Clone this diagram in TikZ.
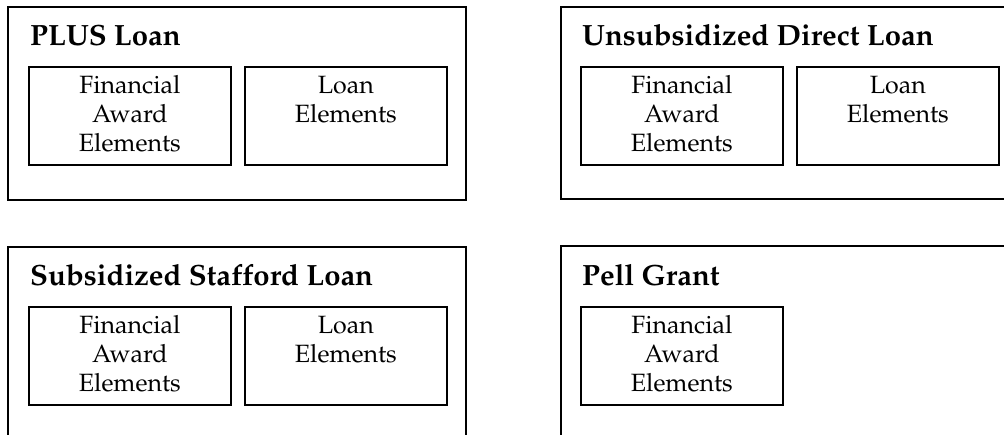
\documentclass[tikz,border=0pt]{standalone}
\usepackage[T1]{fontenc}
\usepackage{mathpazo}
\tikzset{
  frame/.style={draw=black, line width=1.8pt},
  inbox/.style={draw=black, line width=1.8pt, minimum width=202pt, minimum height=98pt, inner sep=0pt, anchor=north west},
  intext/.style={align=center, inner sep=0pt, anchor=north, font=\fontsize{25}{29}\selectfont},
  grouptitle/.style={anchor=base west, inner sep=0pt, font=\fontsize{29.3}{34}\selectfont\bfseries},
}
\begin{document}
\begin{tikzpicture}[x=1pt,y=-1pt]
\useasboundingbox (0,0) rectangle (1004,435);
% outer frames
\draw[frame] (8,7) rectangle (466,200);
\draw[frame] (1004,7) -- (561,7) -- (561,199) -- (1004,199);
\draw[frame] (8,435) -- (8,247) -- (466,247) -- (466,435);
\draw[frame] (561,435) -- (561,246) -- (1004,246);
% titles
\node[grouptitle] (tplus) at (30,46) {PLUS Loan};
\node[grouptitle] (tunsub) at (582,46) {Unsubsidized Direct Loan};
\node[grouptitle] (tsub) at (30,286) {Subsidized Stafford Loan};
\node[grouptitle] (tpell) at (582,286) {Pell Grant};
% inner boxes
\node[inbox] (pf) at (28,66) {};
\node[inbox] (pl) at (244,66) {};
\node[inbox] (uf) at (580,66) {};
\node[inbox] (ul) at (796,66) {};
\node[inbox] (sf) at (28,306) {};
\node[inbox] (sl) at (244,306) {};
\node[inbox] (gf) at (580,306) {};
% inner texts
\node[intext] (pft) at ([yshift=-9pt]pf.north) {Financial\\Award\\Elements};
\node[intext] (plt) at ([yshift=-10pt]pl.north) {Loan\\Elements};
\node[intext] (uft) at ([yshift=-9pt]uf.north) {Financial\\Award\\Elements};
\node[intext] (ult) at ([yshift=-10pt]ul.north) {Loan\\Elements};
\node[intext] (sft) at ([yshift=-9pt]sf.north) {Financial\\Award\\Elements};
\node[intext] (slt) at ([yshift=-10pt]sl.north) {Loan\\Elements};
\node[intext] (gft) at ([yshift=-9pt]gf.north) {Financial\\Award\\Elements};
\end{tikzpicture}
\end{document}
